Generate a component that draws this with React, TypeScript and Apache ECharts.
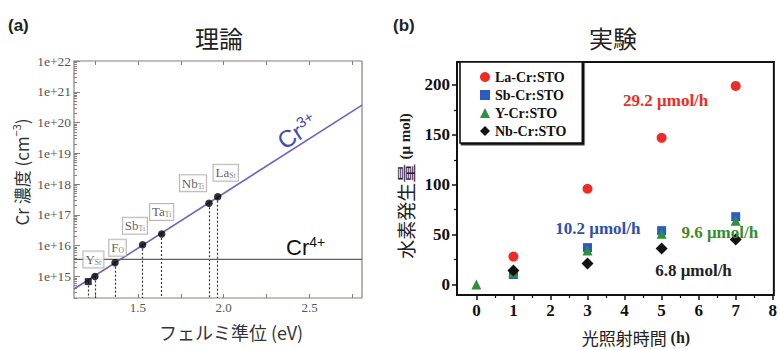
import React, { useEffect, useRef } from 'react';
import * as echarts from 'echarts';

// ---------- (a) theory ----------
const dopants = ['Y', 'Y', 'F', 'Sb', 'Ta', 'Nb', 'La'];
const sites = ['Sr', 'Sr', 'O', 'Ti', 'Ti', 'Ti', 'Sr'];
const fermiLevel = [1.21, 1.249, 1.366, 1.527, 1.638, 1.914, 1.965];
const crConc = [6.8e14, 1.0e15, 2.8e15, 1.07e16, 2.4e16, 2.4e17, 3.9e17];
const showBox = [false, true, true, true, true, true, true];
const cr3LineX = [1.127, 2.806];
const cr3LineConc = [3.9e14, 3.7e20];
const cr4LineX = [1.127, 2.806];
const cr4Conc = 3.6e15;
const yDecadeTicks = [15, 16, 17, 18, 19, 20, 21, 22];
const xTickValues = [1.25, 1.5, 1.75, 2.0, 2.25, 2.5, 2.75];
const xLabelValues = [1.5, 2.0, 2.5];

// ---------- (b) experiment ----------
const seriesNames = ['La-Cr:STO', 'Sb-Cr:STO', 'Y-Cr:STO', 'Nb-Cr:STO'];
const hoursLa = [1, 3, 5, 7];
const h2La = [28, 96, 147, 199];
const hoursSb = [1, 3, 5, 7];
const h2Sb = [10, 37, 54, 68];
const hoursY = [0, 1, 3, 5, 7];
const h2Y = [0, 12, 34, 51, 64];
const hoursNb = [1, 3, 5, 7];
const h2Nb = [14, 21, 36, 45];
const rateTexts = ['29.2 μmol/h', '10.2 μmol/h', '9.6 μmol/h', '6.8 μmol/h'];
const rateAnchors: [number, number][] = [[5.11, 184], [3.28, 56.6], [6.57, 52.6], [5.86, 14.5]];
const bHourTicks = [0, 1, 2, 3, 4, 5, 6, 7, 8];
const bHourMinor = [0.5, 1.5, 2.5, 3.5, 4.5, 5.5, 6.5, 7.5];
const bYTicks = [0, 50, 100, 150, 200];
const bYMinor = [25, 75, 125, 175];

// layout / styles
const labelOffsets: [number, number][] = [[0, 0], [-1.5, -17], [2.5, -15], [-7.7, -19], [0, -22], [-16, -20], [8, -24]];
const frameColor = '#8c7e78';
const serif = '"Liberation Serif", "DejaVu Serif", serif';
const sans = '"Liberation Sans", Arial, sans-serif';
const cjk = '"Noto Sans CJK JP", "Noto Sans", sans-serif';
const colors = ['#ee2b24', '#2d5bc4', '#2e8f3c', '#111111'];
const rateColors = ['#ee2b24', '#2f4fb0', '#3a8c2a', '#222222'];

const yMin = 14.3;
const yMinor: number[] = [];
for (let n = 14; n < 22; n++) {
  for (let k = 2; k <= 9; k++) {
    const v = n + Math.log10(k);
    if (v > yMin && v < 22) yMinor.push(v);
  }
}

function buildOption(): any {
  const leftPoints = fermiLevel.map((x, i) => {
    const item: any = {
      value: [x, Math.log10(crConc[i])],
      symbol: i === 0 ? 'rect' : 'circle',
      symbolSize: i === 0 ? 7 : 7.5,
    };
    if (showBox[i]) {
      item.label = {
        show: true,
        position: 'inside',
        offset: labelOffsets[i],
        formatter: `{m|${dopants[i]}}{s|${sites[i]}}`,
      };
    }
    return item;
  });

  const boxRich = {
    m: { fontFamily: serif, fontSize: 13, color: '#333', lineHeight: 14, verticalAlign: 'middle' },
    s: { fontFamily: serif, fontSize: 7.5, color: '#555', lineHeight: 8, verticalAlign: 'bottom' },
  };

  const rightSeries = [
    { name: seriesNames[0], hours: hoursLa, vals: h2La, symbol: 'circle', size: 10 },
    { name: seriesNames[1], hours: hoursSb, vals: h2Sb, symbol: 'rect', size: 9 },
    { name: seriesNames[2], hours: hoursY, vals: h2Y, symbol: 'triangle', size: 10 },
    { name: seriesNames[3], hours: hoursNb, vals: h2Nb, symbol: 'diamond', size: 12 },
  ].map((s, i) => ({
    type: 'scatter',
    name: s.name,
    xAxisIndex: 2,
    yAxisIndex: 2,
    symbol: s.symbol,
    symbolSize: s.size,
    itemStyle: { color: colors[i], opacity: 1 },
    z: 3 + (i === 3 ? 1 : 0),
    data: s.hours.map((h, j) => [h, s.vals[j]]),
    markPoint: {
      symbol: 'circle',
      symbolSize: 0,
      silent: true,
      data: [
        {
          coord: rateAnchors[i],
          label: {
            show: true,
            position: 'inside',
            formatter: rateTexts[i],
            color: rateColors[i],
            fontFamily: serif,
            fontWeight: 'bold',
            fontSize: 17,
          },
        },
      ],
    },
  }));

  return {
    animation: false,
    backgroundColor: '#ffffff',
    grid: [
      { left: 74, top: 61, width: 288, height: 237, show: true, borderColor: frameColor, borderWidth: 1.2, backgroundColor: 'transparent' },
      { left: 457, top: 62, width: 319, height: 233, show: true, borderColor: '#111', borderWidth: 2, backgroundColor: 'transparent' },
    ],
    xAxis: [
      {
        type: 'value', gridIndex: 0, position: 'bottom', min: cr3LineX[0], max: cr3LineX[1],
        axisLine: { show: false, onZero: false },
        axisTick: { show: true, inside: true, length: 4, customValues: xTickValues, lineStyle: { color: frameColor } },
        axisLabel: { show: true, customValues: xLabelValues, formatter: (v: number) => v.toFixed(1), fontFamily: serif, fontSize: 13, color: '#555', margin: 3 },
        splitLine: { show: false },
      },
      {
        type: 'value', gridIndex: 0, position: 'top', min: cr3LineX[0], max: cr3LineX[1],
        axisLine: { show: false, onZero: false },
        axisTick: { show: true, inside: true, length: 4, customValues: xTickValues, lineStyle: { color: frameColor } },
        axisLabel: { show: false },
        splitLine: { show: false },
      },
      {
        type: 'value', gridIndex: 1, position: 'bottom', min: -0.523, max: 8.03,
        axisLine: { show: false, onZero: false },
        axisTick: { show: true, inside: false, length: 5, customValues: bHourTicks, lineStyle: { color: '#111', width: 1.5 } },
        axisLabel: { show: true, customValues: bHourTicks, fontFamily: serif, fontWeight: 'bold', fontSize: 17, color: '#111', margin: 7 },
        splitLine: { show: false },
      },
      {
        type: 'value', gridIndex: 1, position: 'bottom', min: -0.523, max: 8.03,
        axisLine: { show: false, onZero: false },
        axisTick: { show: true, inside: false, length: 3, customValues: bHourMinor, lineStyle: { color: '#111', width: 1.2 } },
        axisLabel: { show: false },
        splitLine: { show: false },
      },
    ],
    yAxis: [
      {
        type: 'value', gridIndex: 0, position: 'left', min: yMin, max: 22,
        axisLine: { show: false, onZero: false },
        axisTick: { show: true, inside: true, length: 6, customValues: yDecadeTicks, lineStyle: { color: frameColor } },
        axisLabel: { show: true, customValues: yDecadeTicks, formatter: (v: number) => '1e+' + Math.round(v), fontFamily: serif, fontSize: 13.5, color: '#555', margin: 3 },
        splitLine: { show: false },
      },
      {
        type: 'value', gridIndex: 0, position: 'left', min: yMin, max: 22,
        axisLine: { show: false, onZero: false },
        axisTick: { show: true, inside: true, length: 3, customValues: yMinor, lineStyle: { color: frameColor } },
        axisLabel: { show: false },
        splitLine: { show: false },
      },
      {
        type: 'value', gridIndex: 1, position: 'left', min: -10.5, max: 223,
        axisLine: { show: false, onZero: false },
        axisTick: { show: true, inside: false, length: 5, customValues: bYTicks, lineStyle: { color: '#111', width: 1.5 } },
        axisLabel: { show: true, customValues: bYTicks, fontFamily: serif, fontWeight: 'bold', fontSize: 17, color: '#111', margin: 7 },
        splitLine: { show: false },
      },
      {
        type: 'value', gridIndex: 1, position: 'left', min: -10.5, max: 223,
        axisLine: { show: false, onZero: false },
        axisTick: { show: true, inside: false, length: 3, customValues: bYMinor, lineStyle: { color: '#111', width: 1.2 } },
        axisLabel: { show: false },
        splitLine: { show: false },
      },
    ],
    legend: {
      show: true,
      orient: 'vertical',
      left: 460,
      top: 62,
      data: seriesNames,
      itemWidth: 10,
      itemHeight: 10,
      itemGap: 4,
      padding: [8, 16, 5, 20],
      borderColor: '#111',
      borderWidth: 1.6,
      backgroundColor: '#fff',
      shadowColor: '#111',
      shadowBlur: 0,
      shadowOffsetX: 1.5,
      shadowOffsetY: 1.5,
      textStyle: { fontFamily: serif, fontWeight: 'bold', fontSize: 14, color: '#111' },
      selectedMode: false,
    },
    series: [
      {
        type: 'line',
        name: 'Cr3+',
        xAxisIndex: 0,
        yAxisIndex: 0,
        data: cr3LineX.map((x, i) => [x, Math.log10(cr3LineConc[i])]),
        symbol: 'none',
        lineStyle: { color: '#6f63c6', width: 1.6 },
        silent: true,
        markPoint: {
          symbol: 'circle', symbolSize: 0, silent: true,
          data: [{
            coord: [2.427, 19.73],
            label: {
              show: true, position: 'inside', rotate: 32.7,
              formatter: '{a|Cr}{b|3+}',
              rich: {
                a: { fontFamily: sans, fontSize: 24, color: '#3d4db0', lineHeight: 26, verticalAlign: 'bottom' },
                b: { fontFamily: sans, fontSize: 15, color: '#3d4db0', lineHeight: 18, verticalAlign: 'top' },
              },
            },
          }],
        },
      },
      {
        type: 'line',
        name: 'Cr4+',
        xAxisIndex: 0,
        yAxisIndex: 0,
        data: cr4LineX.map((x) => [x, Math.log10(cr4Conc)]),
        symbol: 'none',
        lineStyle: { color: '#6b5c57', width: 1.3 },
        silent: true,
        markPoint: {
          symbol: 'circle', symbolSize: 0, silent: true,
          data: [{
            coord: [2.477, 15.96],
            label: {
              show: true, position: 'inside',
              formatter: '{a|Cr}{b|4+}',
              rich: {
                a: { fontFamily: sans, fontSize: 22, color: '#111', lineHeight: 24, verticalAlign: 'bottom' },
                b: { fontFamily: sans, fontSize: 14, color: '#111', lineHeight: 16, verticalAlign: 'top' },
              },
            },
          }],
        },
      },
      {
        type: 'scatter',
        name: 'points',
        xAxisIndex: 0,
        yAxisIndex: 0,
        itemStyle: { color: '#000' },
        z: 4,
        label: {
          show: false,
          backgroundColor: '#ffffff',
          borderColor: '#a8a4a2',
          borderWidth: 1,
          padding: [1, 2, 1, 2],
          rich: boxRich,
        },
        data: leftPoints,
        markLine: {
          symbol: 'none',
          silent: true,
          z: 1,
          label: { show: false },
          lineStyle: { type: [2, 2], color: '#333', width: 1.2 },
          data: fermiLevel.map((x, i) => [
            { coord: [x, Math.log10(crConc[i])] },
            { coord: [x, yMin] },
          ]),
        },
      },
      ...rightSeries,
    ],
    graphic: [
      { type: 'text', x: 8, y: 25, style: { text: '(a)', fontFamily: sans, fontSize: 17, fontWeight: 'bold', fill: '#222', align: 'left', verticalAlign: 'middle' } },
      { type: 'text', x: 219, y: 37, style: { text: '理論', fontFamily: cjk, fontSize: 24, fill: '#222', align: 'center', verticalAlign: 'middle' } },
      { type: 'text', x: 393, y: 25, style: { text: '(b)', fontFamily: sans, fontSize: 17, fontWeight: 'bold', fill: '#222', align: 'left', verticalAlign: 'middle' } },
      { type: 'text', x: 613, y: 37, style: { text: '実験', fontFamily: cjk, fontSize: 24, fill: '#222', align: 'center', verticalAlign: 'middle' } },
      {
        type: 'text', x: 20, y: 172, rotation: Math.PI / 2,
        style: {
          text: '{a|Cr 濃度 (cm}{b|−3}{a|)}', align: 'center', verticalAlign: 'middle',
          rich: {
            a: { fontFamily: cjk, fontSize: 17, fill: '#333', color: '#333', lineHeight: 20, verticalAlign: 'bottom' },
            b: { fontFamily: cjk, fontSize: 11, fill: '#333', color: '#333', lineHeight: 14, verticalAlign: 'top' },
          },
        },
      },
      { type: 'text', x: 231, y: 332, style: { text: 'フェルミ準位 (eV)', fontFamily: cjk, fontSize: 18, fill: '#333', align: 'center', verticalAlign: 'middle' } },
      {
        type: 'text', x: 405, y: 186, rotation: Math.PI / 2,
        style: {
          text: '{a|水素発生量 }{b|(μ mol)}', align: 'center', verticalAlign: 'middle',
          rich: {
            a: { fontFamily: cjk, fontSize: 19, fill: '#222', color: '#222' },
            b: { fontFamily: serif, fontSize: 15, fontWeight: 'bold', fill: '#222', color: '#222' },
          },
        },
      },
      {
        type: 'text', x: 636, y: 337,
        style: {
          text: '{a|光照射時間 }{b|(h)}', align: 'center', verticalAlign: 'middle',
          rich: {
            a: { fontFamily: cjk, fontSize: 17, fill: '#222', color: '#222' },
            b: { fontFamily: serif, fontSize: 16, fontWeight: 'bold', fill: '#222', color: '#222' },
          },
        },
      },
    ],
  };
}

export default function App() {
  const ref = useRef<HTMLDivElement>(null);
  useEffect(() => {
    if (!ref.current) return;
    const chart = echarts.init(ref.current, undefined, { renderer: 'svg' });
    chart.setOption(buildOption());
    return () => chart.dispose();
  }, []);
  return (
    <div
      ref={ref}
      style={{ position: 'absolute', left: 0, top: 0, width: 780, height: 349, background: '#fff' }}
    />
  );
}
